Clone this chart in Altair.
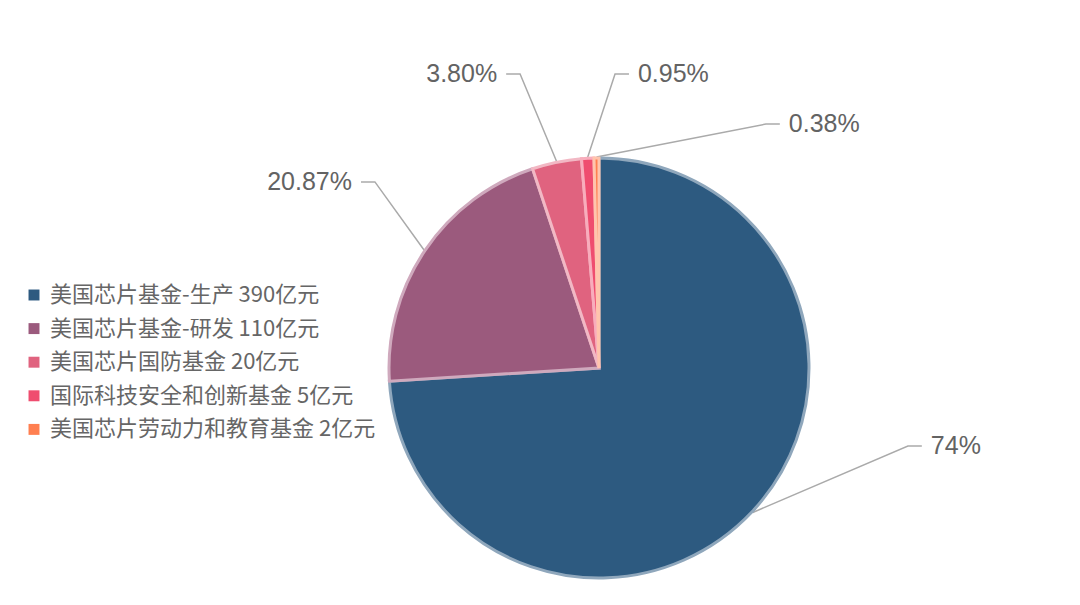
import math
import altair as alt
import pandas as pd

# ---- data ----
names = ["美国芯片基金-生产", "美国芯片基金-研发", "美国芯片国防基金",
         "国际科技安全和创新基金", "美国芯片劳动力和教育基金"]
values = [390, 110, 20, 5, 2]
unit = "亿元"

# ---- style ----
colors = ["#2d5a80", "#9b5a7d", "#e0637f", "#ef4d6f", "#ff7f50"]
stroke_colors = ["#8fa7bc", "#cfa9bd", "#f2b8c4", "#f8adbc", "#ffc4ad"]

# ---- layout (pie units, relative to centre, y up) ----
label_elbows = [(1.464, -0.370), (-1.062, 0.882), (-0.374, 1.393),
                (0.076, 1.393), (0.791, 1.156)]
seg2 = 0.066

W, H = 1064, 589
CX, CY, R = 591, 360, 211

total = sum(values)
legend_labels = [f"{n} {v}{unit}" for n, v in zip(names, values)]


def pct(v):
    s = f"{v / total * 100:.2f}"
    if s.endswith(".00"):
        s = s[:-3]
    return s + "%"


pie_df = pd.DataFrame({"idx": range(len(values)), "label": legend_labels, "value": values})

line_rows, text_rows = [], []
cum = 0
for i, v in enumerate(values):
    mid = (cum + v / 2) / total * 2 * math.pi
    cum += v
    ex, ey = math.sin(mid), math.cos(mid)
    bx, by = label_elbows[i]
    side = 1 if bx > 0 else -1
    fx = bx + side * seg2
    line_rows += [
        {"key": i, "ord": 0, "x": ex, "y": ey},
        {"key": i, "ord": 1, "x": bx, "y": by},
        {"key": i, "ord": 2, "x": fx, "y": by},
    ]
    text_rows.append({"text": pct(v), "x": fx, "y": by, "side": side})

line_df = pd.DataFrame(line_rows)
text_df = pd.DataFrame(text_rows)

xscale = alt.Scale(domain=[-CX / R, (W - CX) / R], nice=False, zero=False)
yscale = alt.Scale(domain=[-(H - CY) / R, CY / R], nice=False, zero=False)

lines = alt.Chart(line_df).mark_line(color="#aaaaaa", strokeWidth=1.5).encode(
    x=alt.X("x:Q", scale=xscale, axis=None),
    y=alt.Y("y:Q", scale=yscale, axis=None),
    detail="key:N",
    order="ord:Q",
)

arc = alt.Chart(pie_df).mark_arc(outerRadius=R - 1, strokeWidth=3).encode(
    theta=alt.Theta("value:Q", stack=True),
    order=alt.Order("idx:Q"),
    fill=alt.Fill(
        "label:N",
        scale=alt.Scale(domain=legend_labels, range=colors),
        legend=alt.Legend(
            orient="none", legendX=15, legendY=276, title=None,
            symbolType="square", symbolSize=120, symbolStrokeWidth=0,
            labelFont="Noto Sans CJK SC", labelFontSize=22, labelColor="#666666",
            labelOffset=5, rowPadding=11.6, padding=0, labelLimit=600,
        ),
    ),
    stroke=alt.Stroke("label:N", scale=alt.Scale(domain=legend_labels, range=stroke_colors), legend=None),
    x=alt.value(CX),
    y=alt.value(CY),
)

text_style = dict(font="Liberation Sans", fontSize=25, color="#636363", baseline="middle")
text_r = alt.Chart(text_df).transform_filter("datum.side > 0").mark_text(
    align="left", dx=9, **text_style).encode(
    x=alt.X("x:Q", scale=xscale, axis=None),
    y=alt.Y("y:Q", scale=yscale, axis=None),
    text="text:N",
)
text_l = alt.Chart(text_df).transform_filter("datum.side < 0").mark_text(
    align="right", dx=-9, **text_style).encode(
    x=alt.X("x:Q", scale=xscale, axis=None),
    y=alt.Y("y:Q", scale=yscale, axis=None),
    text="text:N",
)

chart = alt.layer(lines, arc, text_r, text_l).properties(
    width=W, height=H, padding=0,
    autosize=alt.AutoSizeParams(type="none"),
).configure_view(stroke=None)

chart.save("out.html", embed_options={"renderer": "svg", "actions": False})
